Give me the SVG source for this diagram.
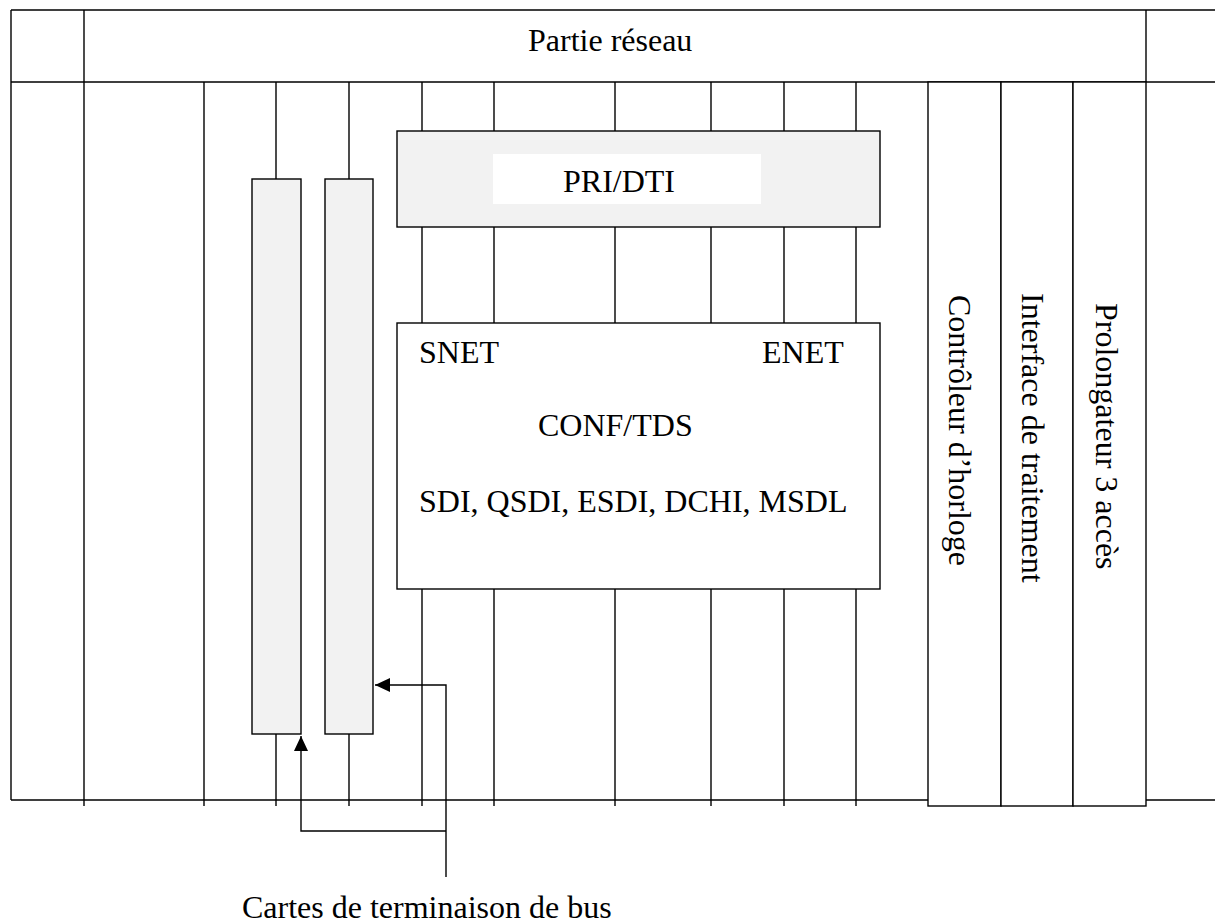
<svg xmlns="http://www.w3.org/2000/svg" width="1215" height="921" viewBox="0 0 1215 921">
<style>
.ln{stroke:#000;stroke-width:1.4;fill:none}
.box{stroke:#000;stroke-width:1.4;fill:#fff}
.card{stroke:#000;stroke-width:1.4;fill:#f2f2f2}
.t{font-family:"Liberation Serif","Times New Roman",serif;font-size:32px;fill:#000}
</style>
<defs>
<marker id="ah" markerWidth="16" markerHeight="14" refX="15" refY="7" orient="auto" markerUnits="userSpaceOnUse">
<path d="M0,0 L15,7 L0,14 Z" fill="#000"/>
</marker>
</defs>
<rect width="1215" height="921" fill="#fff"/>
<g id="frame">
<path class="ln" d="M11,10 H1215 M11,10 V800 M11,82 H1215 M11,800 H928 M1146,800 H1215"/>
<path class="ln" d="M84,10 V806 M1146,10 V82"/>
<path class="ln" d="M204,82 V806 M276,82 V179 M276,734 V806 M349,82 V179 M349,734 V806"/>
<path class="ln" d="M422,82 V806 M494,82 V806 M615,82 V806 M711,82 V806 M784,82 V806 M856,82 V806"/>
<text class="t" x="528" y="51">Partie réseau</text>
</g>
<g id="card1"><rect class="card" x="252" y="179" width="49" height="555"/></g>
<g id="card2"><rect class="card" x="325" y="179" width="48" height="555"/></g>
<g id="pri-dti">
<rect class="card" x="397" y="131" width="483" height="96"/>
<rect x="493" y="154" width="268" height="50" fill="#fff"/>
<text class="t" x="563" y="192">PRI/DTI</text>
</g>
<g id="conf-tds">
<rect class="box" x="397" y="323" width="483" height="266"/>
<text class="t" x="419" y="363">SNET</text>
<text class="t" x="762" y="363">ENET</text>
<text class="t" x="538" y="436">CONF/TDS</text>
<text class="t" x="419" y="512">SDI, QSDI, ESDI, DCHI, MSDL</text>
</g>
<g id="horloge">
<rect class="box" x="928" y="82" width="73" height="724"/>
<text class="t" transform="translate(949,295) rotate(90)">Contrôleur d’horloge</text>
</g>
<g id="traitement">
<rect class="box" x="1001" y="82" width="72" height="724"/>
<text class="t" transform="translate(1022,293) rotate(90)">Interface de traitement</text>
</g>
<g id="prolongateur">
<rect class="box" x="1073" y="82" width="73" height="724"/>
<text class="t" transform="translate(1096,303) rotate(90)">Prolongateur 3 accès</text>
</g>
<g id="connectors">
<path class="ln" d="M446,877 V685 H375" marker-end="url(#ah)"/>
<path class="ln" d="M446,831 H301 V736" marker-end="url(#ah)"/>
</g>
<g id="label">
<text class="t" x="242" y="918">Cartes de terminaison de bus</text>
</g>
</svg>
